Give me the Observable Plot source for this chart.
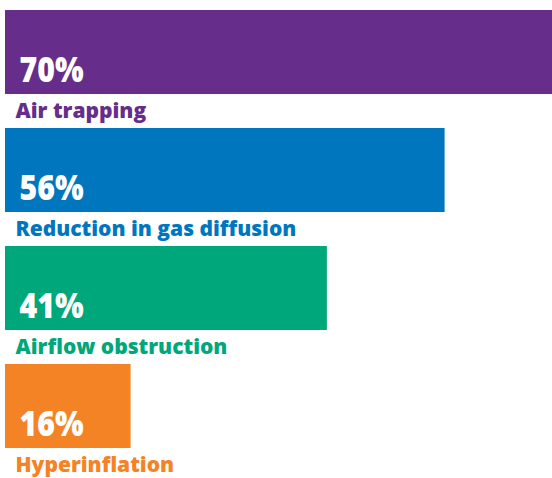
<!DOCTYPE html>
<html>
<head>
<meta charset="utf-8">
<script src="https://cdn.jsdelivr.net/npm/d3@7"></script>
<script src="https://cdn.jsdelivr.net/npm/@observablehq/plot@0.6"></script>
<style>
  html, body { margin: 0; padding: 0; background: #fff; }
  #chart svg { display: block; }
</style>
</head>
<body>
<div id="chart"></div>
<script>
const categories = ["Air trapping", "Reduction in gas diffusion", "Airflow obstruction", "Hyperinflation"];
const values = [70, 56, 41, 16];
const colors = ["#672D8B", "#0076BF", "#00A77B", "#F48326"];

const data = categories.map((c, i) => ({category: c, value: values[i], label: values[i] + "%"}));

const chart = Plot.plot({
  width: 552,
  height: 478,
  marginLeft: 5,
  marginRight: 0,
  marginTop: 0,
  marginBottom: 0,
  x: {domain: [0, 70], range: [5, 554.5], axis: null},
  y: {type: "band", domain: categories, range: [10, 450], paddingInner: 0.292, paddingOuter: 0, align: 0, axis: null},
  color: {type: "ordinal", domain: categories, range: colors},
  marks: [
    Plot.barX(data, {x: "value", y: "category", fill: "category"}),
    Plot.text(data, {
      x: 0, y: "category", text: "label",
      textAnchor: "start", lineAnchor: "bottom",
      dx: 14, dy: 29.5,
      fill: "white", fontSize: 36, fontWeight: 800,
      fontFamily: "'Open Sans', sans-serif",
      className: "pct"
    }),
    Plot.text(data, {
      x: 0, y: "category", text: "category",
      textAnchor: "start", lineAnchor: "bottom",
      dx: 10, dy: 65.5,
      fill: "category", fontSize: 21, fontWeight: 800,
      fontFamily: "'Open Sans', sans-serif"
    })
  ]
});
document.getElementById("chart").appendChild(chart);
// condense the big percentage labels (reference uses a condensed bold face)
d3.select(chart).selectAll(".pct text").each(function() {
  const w = this.getComputedTextLength();
  this.setAttribute("textLength", w * 0.84);
  this.setAttribute("lengthAdjust", "spacingAndGlyphs");
});
</script>
</body>
</html>
